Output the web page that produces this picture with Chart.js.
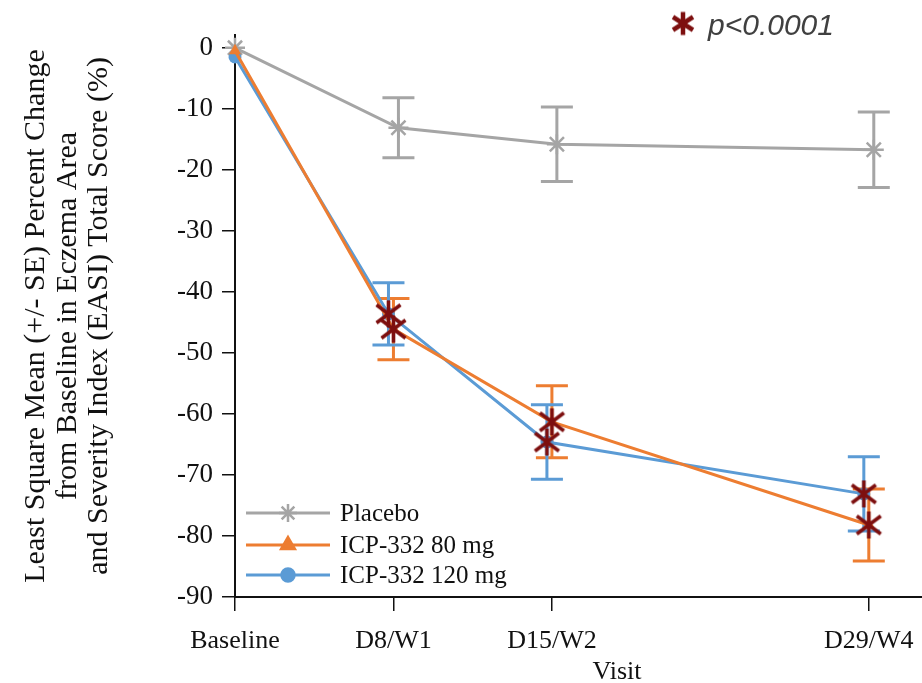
<!DOCTYPE html>
<html><head><meta charset="utf-8">
<script src="https://cdn.jsdelivr.net/npm/chart.js@4"></script>
<style>html,body{margin:0;padding:0;background:#fff;}#wrap{width:922px;height:683px;}</style>
</head><body><div id="wrap"><canvas id="c" width="922" height="683"></canvas></div>
<script>
// ---------- data ----------
const visitDays = [1, 8, 15, 29];
const tickLabels = ['Baseline', 'D8/W1', 'D15/W2', 'D29/W4'];
const seriesNames = ['Placebo', 'ICP-332 80 mg', 'ICP-332 120 mg'];
const placeboMean = [0, -13.1, -15.8, -16.7];
const placeboSE   = [0, 4.9, 6.1, 6.2];
const dose80Mean  = [-0.5, -46.1, -61.3, -78.2];
const dose80SE    = [0, 5.0, 5.9, 5.9];
const dose120Mean = [-1.5, -43.6, -64.6, -73.1];
const dose120SE   = [0, 5.1, 6.1, 6.1];
const significant = [false, true, true, true]; // p<0.0001 vs placebo
const yAxisTitle = ['Least Square Mean (+/- SE) Percent Change', 'from Baseline in Eczema Area', 'and Severity Index (EASI) Total Score (%)'];
const xAxisTitle = 'Visit';
const sigNote = 'p<0.0001';

// ---------- style ----------
const GRAY = '#A5A5A5', ORANGE = '#ED7D31', BLUE = '#5B9BD5', STAR = '#7D0F0F';
const dodge = { placebo: 0.22, dose80: 0, dose120: -0.22 }; // horizontal dodge in days (post-baseline)
const SERIF = "'Liberation Serif', 'Times New Roman', serif";

function pts(mean, se, dg) {
  return visitDays.map((d, i) => ({ x: d + (i > 0 ? dg : 0), y: mean[i], se: se[i] }));
}
function sigPts(mean, dg) {
  return visitDays.map((d, i) => significant[i] ? { x: d + (i > 0 ? dg : 0), y: mean[i] } : null).filter(Boolean);
}
function makeAsterisk(r, dx, dy, lw, color) {
  const s = Math.ceil(2 * r + lw + 2);
  const cv = document.createElement('canvas');
  cv.width = s; cv.height = s;
  const g = cv.getContext('2d');
  g.strokeStyle = color; g.lineWidth = lw; g.lineCap = 'butt';
  const c = s / 2;
  g.beginPath();
  g.moveTo(c, c - r); g.lineTo(c, c + r);
  g.moveTo(c - dx, c - dy); g.lineTo(c + dx, c + dy);
  g.moveTo(c - dx, c + dy); g.lineTo(c + dx, c - dy);
  g.stroke();
  return cv;
}
const starImg = makeAsterisk(13.5, 12, 9, 3.6, STAR);

const errorBars = {
  id: 'errorBars',
  beforeDatasetsDraw(chart) {
    const { ctx, scales: { x, y } } = chart;
    ctx.save();
    ctx.lineWidth = 3;
    chart.data.datasets.forEach((ds) => {
      if (!ds.errColor) return;
      ctx.strokeStyle = ds.errColor;
      ds.data.forEach(p => {
        if (!p.se) return;
        const px = x.getPixelForValue(p.x);
        const t = y.getPixelForValue(p.y + p.se), b = y.getPixelForValue(p.y - p.se);
        ctx.beginPath();
        ctx.moveTo(px, t); ctx.lineTo(px, b);
        ctx.moveTo(px - 16, t); ctx.lineTo(px + 16, t);
        ctx.moveTo(px - 16, b); ctx.lineTo(px + 16, b);
        ctx.stroke();
      });
    });
    ctx.restore();
  }
};

const extras = {
  id: 'extras',
  afterDraw(chart) {
    const { ctx } = chart;
    ctx.save();
    // legend
    const items = [
      { name: seriesNames[0], color: GRAY, style: 'star', r: 9, y: 513 },
      { name: seriesNames[1], color: ORANGE, style: 'triangle', r: 8, y: 545 },
      { name: seriesNames[2], color: BLUE, style: 'circle', r: 6.5, y: 575 }
    ];
    items.forEach(it => {
      ctx.strokeStyle = it.color; ctx.lineWidth = 3;
      ctx.beginPath(); ctx.moveTo(246, it.y); ctx.lineTo(330, it.y); ctx.stroke();
      ctx.fillStyle = it.color; ctx.lineWidth = 2.5;
      Chart.helpers.drawPoint(ctx, { pointStyle: it.style, radius: it.r, rotation: 0, borderWidth: 2.5 }, 288, it.y);
      ctx.fillStyle = '#111';
      ctx.font = '25px ' + SERIF;
      ctx.textBaseline = 'middle'; ctx.textAlign = 'left';
      ctx.fillText(it.name, 340, it.y + 1);
    });
    // x-axis title
    ctx.fillStyle = '#111';
    ctx.font = '26px ' + SERIF;
    ctx.textAlign = 'center'; ctx.textBaseline = 'alphabetic';
    ctx.fillText(xAxisTitle, 617, 679);
    // significance note
    const ast = makeAsterisk(11.5, 10, 6.5, 4.5, STAR);
    ctx.drawImage(ast, 683 - ast.width / 2, 23.5 - ast.height / 2);
    ctx.fillStyle = '#404040';
    ctx.font = 'italic 30px "Liberation Sans", Arial, sans-serif';
    ctx.textAlign = 'left';
    ctx.fillText(sigNote, 708, 35);
    ctx.restore();
  }
};

new Chart(document.getElementById('c'), {
  type: 'line',
  data: {
    datasets: [
      { label: 'sig80', data: sigPts(dose80Mean, dodge.dose80), showLine: false, pointStyle: starImg, order: 0, clip: false },
      { label: 'sig120', data: sigPts(dose120Mean, dodge.dose120), showLine: false, pointStyle: starImg, order: 0, clip: false },
      { label: seriesNames[1], data: pts(dose80Mean, dose80SE, dodge.dose80), borderColor: ORANGE, backgroundColor: ORANGE, clip: false,
        borderWidth: 3, pointStyle: 'triangle', pointRadius: 7, pointBorderWidth: 0, errColor: ORANGE, order: 1 },
      { label: seriesNames[2], data: pts(dose120Mean, dose120SE, dodge.dose120), borderColor: BLUE, backgroundColor: BLUE, clip: false,
        borderWidth: 3, pointStyle: 'circle', pointRadius: 6.5, pointBorderWidth: 0, errColor: BLUE, order: 2 },
      { label: seriesNames[0], data: pts(placeboMean, placeboSE, dodge.placebo), borderColor: GRAY, backgroundColor: GRAY, clip: false,
        borderWidth: 3, pointStyle: 'star', pointRadius: 10, pointBorderWidth: 2.5, pointBorderColor: GRAY, errColor: GRAY, order: 3 }
    ]
  },
  options: {
    responsive: false, animation: false,
    layout: { autoPadding: false, padding: { top: 35, right: 0, bottom: 0, left: 0 } },
    plugins: { legend: { display: false }, tooltip: { enabled: false } },
    scales: {
      x: {
        type: 'linear', min: 1, max: 31.35,
        afterBuildTicks: (s) => { s.ticks = visitDays.map(v => ({ value: v })); },
        afterFit: (s) => { s.height = 86; s.paddingRight = 0; s.paddingLeft = 0; },
        ticks: {
          autoSkip: false, maxRotation: 0, padding: 4, color: '#111',
          font: { family: SERIF, size: 26, lineHeight: 2 },
          callback: (v) => tickLabels[visitDays.indexOf(v)]
        },
        grid: { drawOnChartArea: false, drawTicks: true, tickLength: 14, color: '#111', lineWidth: 1.5 },
        border: { color: '#111', width: 2 }
      },
      y: {
        min: -90, max: 2.1,
        afterFit: (s) => { s.width = 235; },
        ticks: { stepSize: 10, includeBounds: false, padding: 9, color: '#111', font: { family: SERIF, size: 27 } },
        grid: { drawOnChartArea: false, drawTicks: true, tickLength: 13, color: '#111', lineWidth: 1.5 },
        border: { color: '#111', width: 2 },
        title: { display: true, text: yAxisTitle, color: '#111', font: { family: SERIF, size: 30, lineHeight: 1.04 }, padding: { top: 21, bottom: 0 } }
      }
    }
  },
  plugins: [errorBars, extras]
});
</script></body></html>
